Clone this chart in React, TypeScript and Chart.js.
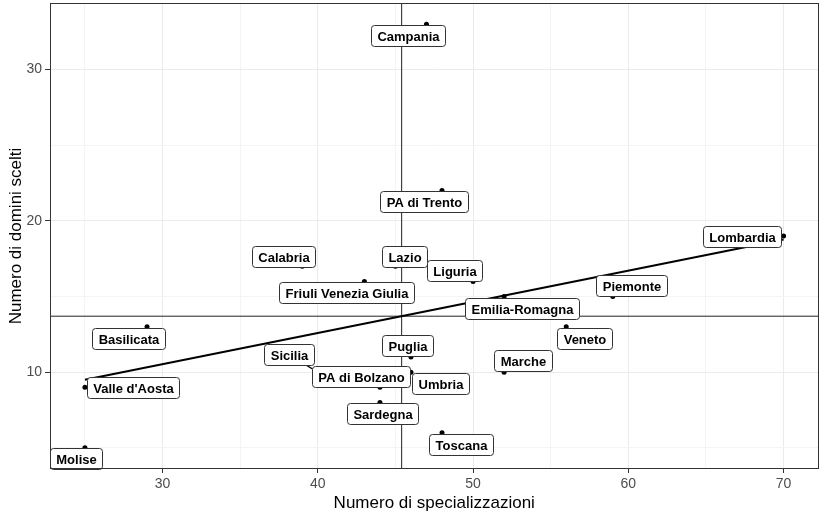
import React, { useEffect, useRef } from "react";
import { Chart, registerables } from "chart.js";

Chart.register(...registerables);

// ---- Data ----
const regions = [
  "Campania", "PA di Trento", "Lombardia", "Calabria", "Lazio",
  "Friuli Venezia Giulia", "Liguria", "Piemonte", "Emilia-Romagna", "Veneto",
  "Basilicata", "Puglia", "Marche", "Umbria", "PA di Bolzano",
  "Sicilia", "Sardegna", "Valle d'Aosta", "Molise", "Toscana",
];
const specializzazioni = [47, 48, 70, 39, 45, 43, 50, 59, 52, 56, 29, 46, 52, 46, 44, 40, 44, 25, 25, 48];
const domini = [33, 22, 19, 17, 17, 16, 16, 15, 15, 13, 13, 11, 10, 10, 9, 10, 8, 9, 5, 6];

// label centres (data units), as placed by the repel layout
const labelPos: [number, number][] = [
  [45.81, 32.24], [46.81, 21.29], [67.33, 18.98], [37.82, 17.66], [45.56, 17.66],
  [41.82, 15.26], [48.8, 16.71], [60.22, 15.74], [53.18, 14.22], [57.2, 12.23],
  [27.8, 12.21], [45.78, 11.75], [53.22, 10.74], [47.91, 9.23], [42.76, 9.72],
  [38.15, 11.16], [44.14, 7.26], [28.09, 8.98], [24.41, 4.29], [49.22, 5.24],
];

const xMajorTicks = [30, 40, 50, 60, 70];
const xMinorTicks = [25, 35, 45, 55, 65];
const yMajorTicks = [10, 20, 30];
const yMinorTicks = [5, 15, 25];

const xTitle = "Numero di specializzazioni";
const yTitle = "Numero di domini scelti";

// ---- derived ----
const n = specializzazioni.length;
const meanX = specializzazioni.reduce((a, b) => a + b, 0) / n;
const meanY = domini.reduce((a, b) => a + b, 0) / n;
let sxy = 0, sxx = 0;
for (let i = 0; i < n; i++) {
  sxy += (specializzazioni[i] - meanX) * (domini[i] - meanY);
  sxx += (specializzazioni[i] - meanX) ** 2;
}
const slope = sxy / sxx;
const intercept = meanY - slope * meanX;
const xMinData = Math.min(...specializzazioni);
const xMaxData = Math.max(...specializzazioni);
const yMinData = Math.min(...domini);
const yMaxData = Math.max(...domini);
const xPad = (xMaxData - xMinData) * 0.05;
const yPad = (yMaxData - yMinData) * 0.05;
const xLim = [xMinData - xPad, xMaxData + xPad];
const yLim = [yMinData - yPad, yMaxData + yPad];

const FONT = '"Liberation Sans", Arial, Helvetica, sans-serif';

const labelPlugin = {
  id: "repelLabels",
  afterDatasetsDraw(chart: any) {
    const ctx = chart.ctx as CanvasRenderingContext2D;
    const xs = chart.scales.x;
    const ys = chart.scales.y;
    ctx.save();
    ctx.font = `bold 13px ${FONT}`;
    const boxes = regions.map((name, i) => {
      const cx = xs.getPixelForValue(labelPos[i][0]);
      const cy = ys.getPixelForValue(labelPos[i][1]);
      const w = Math.round(ctx.measureText(name).width + 12);
      const h = 21;
      return { name, cx, cy, w, h, px: xs.getPixelForValue(specializzazioni[i]), py: ys.getPixelForValue(domini[i]) };
    });
    // segments
    ctx.strokeStyle = "#000";
    ctx.lineWidth = 1.2;
    boxes.forEach((b) => {
      const dx = b.px - b.cx, dy = b.py - b.cy;
      const tx = dx !== 0 ? (b.w / 2) / Math.abs(dx) : Infinity;
      const ty = dy !== 0 ? (b.h / 2) / Math.abs(dy) : Infinity;
      const t = Math.min(tx, ty);
      if (t < 1) {
        const ex = b.cx + dx * t, ey = b.cy + dy * t;
        if (Math.hypot(b.px - ex, b.py - ey) > 6) {
          ctx.beginPath();
          ctx.moveTo(ex, ey);
          ctx.lineTo(b.px, b.py);
          ctx.stroke();
        }
      }
    });
    // boxes
    boxes.forEach((b) => {
      const l = Math.round(b.cx - b.w / 2) + 0.5;
      const t = Math.round(b.cy - b.h / 2) + 0.5;
      const r = 3;
      ctx.beginPath();
      ctx.moveTo(l + r, t);
      ctx.lineTo(l + b.w - r, t);
      ctx.arcTo(l + b.w, t, l + b.w, t + r, r);
      ctx.lineTo(l + b.w, t + b.h - r);
      ctx.arcTo(l + b.w, t + b.h, l + b.w - r, t + b.h, r);
      ctx.lineTo(l + r, t + b.h);
      ctx.arcTo(l, t + b.h, l, t + b.h - r, r);
      ctx.lineTo(l, t + r);
      ctx.arcTo(l, t, l + r, t, r);
      ctx.closePath();
      ctx.fillStyle = "#fff";
      ctx.fill();
      ctx.strokeStyle = "#333";
      ctx.lineWidth = 1;
      ctx.stroke();
      ctx.fillStyle = "#000";
      ctx.textAlign = "center";
      ctx.textBaseline = "middle";
      ctx.fillText(b.name, l + b.w / 2, t + b.h / 2 + 1);
    });
    ctx.restore();
  },
  afterDraw(chart: any) {
    const { ctx, chartArea } = chart;
    ctx.save();
    ctx.strokeStyle = "#333";
    ctx.lineWidth = 1;
    ctx.strokeRect(Math.round(chartArea.left) + 0.5, Math.round(chartArea.top) + 0.5,
      Math.round(chartArea.right - chartArea.left) - 1, Math.round(chartArea.bottom - chartArea.top) - 1);
    ctx.restore();
  },
};

export default function App() {
  const ref = useRef<HTMLCanvasElement>(null);
  useEffect(() => {
    if (!ref.current) return;
    const points = specializzazioni.map((x, i) => ({ x, y: domini[i] }));
    const chart = new Chart(ref.current, {
      type: "scatter",
      data: {
        datasets: [
          {
            label: "regioni",
            data: points,
            backgroundColor: "#000",
            borderColor: "#000",
            pointRadius: 2.5,
            pointHoverRadius: 2.5,
            borderWidth: 0,
          },
          {
            type: "line",
            label: "lm",
            data: [
              { x: xMinData, y: intercept + slope * xMinData },
              { x: xMaxData, y: intercept + slope * xMaxData },
            ],
            borderColor: "#000",
            borderWidth: 2,
            pointRadius: 0,
            fill: false,
          },
          {
            type: "line",
            label: "vline",
            data: [{ x: meanX, y: yLim[0] }, { x: meanX, y: yLim[1] }],
            borderColor: "#222",
            borderWidth: 1,
            pointRadius: 0,
            fill: false,
          },
          {
            type: "line",
            label: "hline",
            data: [{ x: xLim[0], y: meanY }, { x: xLim[1], y: meanY }],
            borderColor: "#222",
            borderWidth: 1,
            pointRadius: 0,
            fill: false,
          },
        ],
      } as any,
      options: {
        animation: false,
        responsive: false,
        devicePixelRatio: 1,
        layout: { padding: { top: 3, right: 2, left: 0, bottom: 0 } },
        plugins: { legend: { display: false }, tooltip: { enabled: false } },
        events: [],
        scales: {
          x: {
            type: "linear",
            min: xLim[0],
            max: xLim[1],
            afterBuildTicks: (s: any) => {
              s.ticks = [...xMinorTicks, ...xMajorTicks].sort((a, b) => a - b).map((v) => ({ value: v }));
            },
            afterFit: (s: any) => { s.height = 47; s.paddingLeft = 0; s.paddingRight = 0; },
            grid: {
              color: (c: any) => (xMajorTicks.includes(c.tick?.value) ? "#EBEBEB" : "#F4F4F4"),
              lineWidth: 1,
              tickColor: (c: any) => (xMajorTicks.includes(c.tick?.value) ? "#333" : "rgba(0,0,0,0)"),
              tickLength: 4,
            },
            border: { display: false },
            ticks: {
              callback: (v: any) => (xMajorTicks.includes(v) ? String(v) : ""),
              color: "#4D4D4D",
              font: { family: FONT, size: 14 },
              padding: 3,
              maxRotation: 0,
              autoSkip: false,
            },
            title: {
              display: true,
              text: xTitle,
              color: "#000",
              font: { family: FONT, size: 17 },
              padding: { top: 0, bottom: 2 },
            },
          },
          y: {
            type: "linear",
            min: yLim[0],
            max: yLim[1],
            afterBuildTicks: (s: any) => {
              s.ticks = [...yMinorTicks, ...yMajorTicks].sort((a, b) => a - b).map((v) => ({ value: v }));
            },
            afterFit: (s: any) => { s.width = 50; s.paddingTop = 0; s.paddingBottom = 0; },
            grid: {
              color: (c: any) => (yMajorTicks.includes(c.tick?.value) ? "#EBEBEB" : "#F4F4F4"),
              lineWidth: 1,
              tickColor: (c: any) => (yMajorTicks.includes(c.tick?.value) ? "#333" : "rgba(0,0,0,0)"),
              tickLength: 5,
            },
            border: { display: false },
            ticks: {
              callback: (v: any) => (yMajorTicks.includes(v) ? String(v) : ""),
              color: "#4D4D4D",
              font: { family: FONT, size: 14 },
              padding: 3,
              autoSkip: false,
            },
            title: {
              display: true,
              text: yTitle,
              color: "#000",
              font: { family: FONT, size: 17 },
              padding: { top: 6, bottom: 0 },
            },
          },
        },
      },
      plugins: [labelPlugin],
    } as any);
    return () => chart.destroy();
  }, []);
  return (
    <div style={{ position: "absolute", left: 0, top: 0, width: 821, height: 516, background: "#fff" }}>
      <canvas ref={ref} width={821} height={516} style={{ width: 821, height: 516 }} />
    </div>
  );
}
